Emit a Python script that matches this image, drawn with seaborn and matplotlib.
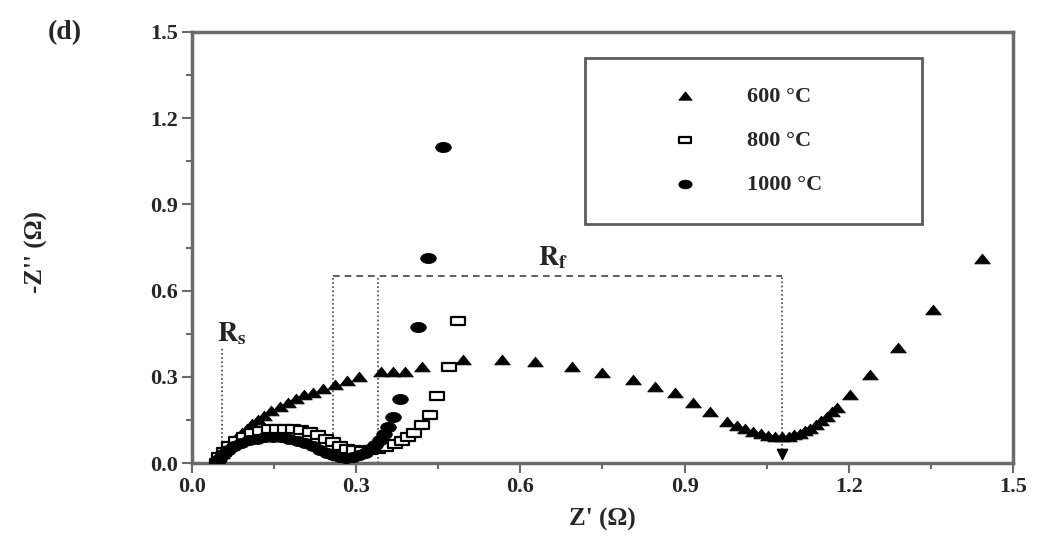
import matplotlib
matplotlib.use("Agg")
import matplotlib.pyplot as plt
import seaborn as sns
import pandas as pd
from matplotlib.path import Path
from matplotlib.transforms import Affine2D

# Nyquist data: Z' (real part, ohm) and -Z'' (imaginary part, ohm)
z_real_600 = [0.045, 0.050, 0.055, 0.060, 0.067, 0.075, 0.083, 0.092, 0.100, 0.110,
              0.120, 0.132, 0.145, 0.160, 0.175, 0.190, 0.205, 0.221, 0.240, 0.261,
              0.283, 0.305, 0.345, 0.367, 0.390, 0.420, 0.495, 0.567, 0.627, 0.695,
              0.750, 0.806, 0.846, 0.883, 0.916, 0.947, 0.978, 0.995, 1.010, 1.025,
              1.040, 1.052, 1.065, 1.078, 1.090, 1.100, 1.110, 1.120, 1.130, 1.140,
              1.150, 1.160, 1.170, 1.179, 1.203, 1.239, 1.289, 1.353, 1.444]
z_imag_600 = [0.005, 0.015, 0.030, 0.045, 0.060, 0.075, 0.090, 0.105, 0.120, 0.135,
              0.150, 0.165, 0.180, 0.195, 0.210, 0.222, 0.235, 0.244, 0.258, 0.272,
              0.285, 0.300, 0.315, 0.317, 0.318, 0.334, 0.359, 0.359, 0.352, 0.334,
              0.313, 0.289, 0.265, 0.244, 0.209, 0.178, 0.143, 0.128, 0.117, 0.107,
              0.100, 0.095, 0.092, 0.090, 0.092, 0.096, 0.102, 0.110, 0.120, 0.132,
              0.145, 0.160, 0.176, 0.190, 0.237, 0.307, 0.400, 0.533, 0.710]

z_real_800 = [0.045, 0.050, 0.058, 0.068, 0.080, 0.095, 0.110, 0.125, 0.140, 0.155,
              0.170, 0.185, 0.200, 0.215, 0.230, 0.245, 0.258, 0.270, 0.283, 0.296,
              0.310, 0.325, 0.340, 0.355, 0.370, 0.383, 0.395, 0.405, 0.420, 0.435,
              0.447, 0.470, 0.486]
z_imag_800 = [0.000, 0.020, 0.040, 0.060, 0.077, 0.092, 0.104, 0.112, 0.117, 0.120,
              0.120, 0.118, 0.114, 0.107, 0.097, 0.085, 0.072, 0.060, 0.050, 0.044,
              0.042, 0.045, 0.050, 0.057, 0.066, 0.077, 0.090, 0.105, 0.132, 0.167,
              0.233, 0.334, 0.495]

z_real_1000 = [0.045, 0.050, 0.057, 0.066, 0.077, 0.090, 0.104, 0.118, 0.133, 0.148,
               0.163, 0.178, 0.193, 0.207, 0.221, 0.234, 0.246, 0.258, 0.270, 0.282,
               0.294, 0.305, 0.316, 0.326, 0.335, 0.343, 0.350, 0.358, 0.367, 0.380,
               0.413, 0.432, 0.459]
z_imag_1000 = [0.000, 0.015, 0.030, 0.045, 0.058, 0.070, 0.079, 0.085, 0.089, 0.090,
               0.089, 0.085, 0.078, 0.069, 0.058, 0.047, 0.036, 0.027, 0.021, 0.019,
               0.021, 0.027, 0.036, 0.048, 0.063, 0.080, 0.100, 0.125, 0.160, 0.223,
               0.474, 0.714, 1.100]

series_labels = ["600 °C", "800 °C", "1000 °C"]

# Resistance markers (ohm)
r_s = 0.055
r_f_left = [0.258, 0.340]
r_f_right = 1.078
r_f_top = 0.652

tick_values = [0.0, 0.3, 0.6, 0.9, 1.2, 1.5]
tick_labels = ["0.0", "0.3", "0.6", "0.9", "1.2", "1.5"]

sns.set_style("ticks")
plt.rcParams["font.family"] = ["Liberation Serif", "DejaVu Serif"]
plt.rcParams["font.weight"] = "bold"
plt.rcParams["mathtext.fontset"] = "stix"

# Slightly widened marker shapes
tri_marker = Path([(-0.8, -0.45), (0.8, -0.45), (0.0, 0.55), (-0.8, -0.45)],
                  [Path.MOVETO, Path.LINETO, Path.LINETO, Path.CLOSEPOLY])
rect_marker = Path([(-1.0, -0.55), (1.0, -0.55), (1.0, 0.55), (-1.0, 0.55), (-1.0, -0.55)],
                   [Path.MOVETO, Path.LINETO, Path.LINETO, Path.LINETO, Path.CLOSEPOLY])
ell_marker = Path.unit_circle().transformed(Affine2D().scale(1.0, 0.65))

fig = plt.figure(figsize=(10.48, 5.46), dpi=100)
ax = fig.add_axes([0.1832, 0.152, 0.7834, 0.7894])

spine_col = "#6a6a6a"
guide_col = "#444444"

# Dotted guide lines for Rs and Rf
ax.plot([r_s, r_s], [0, 0.40], ls=(0, (1, 1.5)), color=guide_col, lw=1.2, zorder=1)
for xv in r_f_left:
    ax.plot([xv, xv], [0, r_f_top], ls=(0, (1, 1.5)), color=guide_col, lw=1.2, zorder=1)
ax.plot([r_f_right, r_f_right], [0.03, r_f_top], ls=(0, (1, 1.5)), color=guide_col, lw=1.2, zorder=1)
ax.plot([r_f_left[0], r_f_right], [r_f_top, r_f_top], ls=(0, (4, 3)), color=guide_col, lw=1.2, zorder=1)
ax.scatter([r_f_right], [0.03], marker="v", s=55, color="black", zorder=3)

df600 = pd.DataFrame({"x": z_real_600, "y": z_imag_600})
df800 = pd.DataFrame({"x": z_real_800, "y": z_imag_800})
df1000 = pd.DataFrame({"x": z_real_1000, "y": z_imag_1000})

sns.scatterplot(data=df600, x="x", y="y", ax=ax, marker=tri_marker, s=125,
                color="black", edgecolor="black", linewidth=0.6, label=series_labels[0], zorder=2)
sns.scatterplot(data=df800, x="x", y="y", ax=ax, marker=rect_marker, s=95,
                facecolor="white", edgecolor="black", linewidth=1.6, label=series_labels[1], zorder=3)
sns.scatterplot(data=df1000, x="x", y="y", ax=ax, marker=ell_marker, s=125,
                color="black", edgecolor="black", linewidth=0.6, label=series_labels[2], zorder=4)

ax.set_xlim(0, 1.5)
ax.set_ylim(0, 1.5)
ax.set_xticks(tick_values)
ax.set_xticklabels(tick_labels)
ax.set_yticks(tick_values)
ax.set_yticklabels(tick_labels)
ax.set_xticks([0.15, 0.45, 0.75, 1.05, 1.35], minor=True)
ax.set_yticks([0.15, 0.45, 0.75, 1.05, 1.35], minor=True)
ax.tick_params(axis="both", which="major", direction="out", length=7, width=1.5,
               color=spine_col, labelsize=16, pad=3)
ax.tick_params(axis="both", which="minor", direction="out", length=4, width=1.5, color=spine_col)
for lab in ax.get_xticklabels() + ax.get_yticklabels():
    lab.set_fontweight("bold")

for sp in ax.spines.values():
    sp.set_visible(True)
    sp.set_color(spine_col)
    sp.set_linewidth(2.5)

ax.set_xlabel("Z' (Ω)", fontsize=18, fontweight="bold")
ax.set_ylabel("-Z'' (Ω)", fontsize=18, fontweight="bold")
ax.xaxis.set_label_coords(0.5, -0.105)
ax.yaxis.set_label_coords(-0.175, 0.49)

ax.text(0.073, 0.45, r"$\mathbf{R_s}$", fontsize=20, ha="center", va="center")
ax.text(0.66, 0.715, r"$\mathbf{R_f}$", fontsize=20, ha="center", va="center")
fig.text(0.062, 0.94, "(d)", fontsize=20, fontweight="bold", ha="center", va="center")

leg = ax.legend(loc="upper left", bbox_to_anchor=(0.479, 0.94, 0.41, 0.0), mode="expand",
                frameon=True, fancybox=False, fontsize=16, borderpad=1.3,
                labelspacing=1.05, handlelength=6.4, handletextpad=-0.4,
                borderaxespad=0.0, scatterpoints=1, markerscale=0.85)
leg.get_frame().set_edgecolor("#333333")
leg.get_frame().set_linewidth(2.0)
for t in leg.get_texts():
    t.set_fontweight("bold")

fig.savefig("out.png", dpi=100, facecolor="white")
